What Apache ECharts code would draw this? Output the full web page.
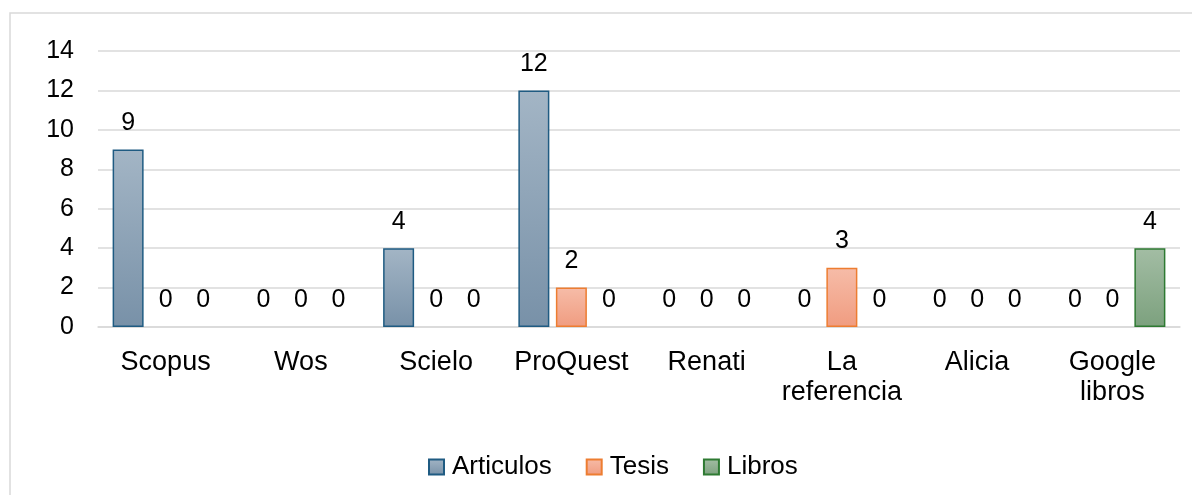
<!DOCTYPE html>
<html>
<head>
<meta charset="utf-8">
<script src="https://cdn.jsdelivr.net/npm/echarts@6/dist/echarts.min.js"></script>
<style>
  html, body { margin: 0; padding: 0; background: #fff; }
  #main { width: 1192px; height: 495px; }
</style>
</head>
<body>
<div id="main"></div>
<script>
var categories = ['Scopus', 'Wos', 'Scielo', 'ProQuest', 'Renati', 'La\nreferencia', 'Alicia', 'Google\nlibros'];
var articulos = [9, 0, 4, 12, 0, 0, 0, 0];
var tesis = [0, 0, 0, 2, 0, 3, 0, 0];
var libros = [0, 0, 0, 0, 0, 0, 0, 4];
var yTicks = { min: 0, max: 14, step: 2 };

var font = '"Liberation Sans", Arial, sans-serif';

function grad(top, bottom) {
	return new echarts.graphic.LinearGradient(0, 0, 0, 1, [
		{ offset: 0, color: top },
		{ offset: 1, color: bottom }
	]);
}

// zero bars: no visible mark, only the "0" label (like Excel)
function items(data) {
	return data.map(function (v) {
		if (v === 0) {
			return { value: 0, itemStyle: { color: 'transparent', borderColor: 'transparent', borderWidth: 0 } };
		}
		return v;
	});
}

function barSeries(name, data, top, bottom, border) {
	return {
		name: name,
		type: 'bar',
		data: items(data),
		barWidth: 31,
		barGap: '21%',
		itemStyle: {
			color: grad(top, bottom),
			borderColor: border,
			borderWidth: 1.5
		},
		label: {
			show: true,
			position: 'top',
			distance: 14,
			color: '#000',
			fontFamily: font,
			fontSize: 25
		}
	};
}

var myChart = echarts.init(document.getElementById('main'));
var option = {
	animation: false,
	graphic: [{
		type: 'rect',
		z: -1,
		shape: { x: 10, y: 13, width: 1200, height: 520 },
		style: { fill: 'none', stroke: '#d9d9d9', lineWidth: 1.5 }
	}],
	grid: {
		left: 98,
		right: 12,
		top: 51,
		bottom: 168
	},
	legend: {
		top: 449,
		left: 423,
		icon: 'rect',
		itemWidth: 15,
		itemHeight: 15,
		itemGap: 34,
		textStyle: { color: '#000', fontFamily: font, fontSize: 26, padding: [0, 0, 0, 3] },
		data: ['Articulos', 'Tesis', 'Libros']
	},
	xAxis: [{
		type: 'category',
		data: categories,
		axisLine: { lineStyle: { color: '#d9d9d9', width: 1.5 } },
		axisTick: { show: false },
		axisLabel: {
			color: '#000',
			fontFamily: font,
			fontSize: 27,
			lineHeight: 30,
			margin: 21,
			interval: 0
		}
	}],
	yAxis: [{
		type: 'value',
		min: yTicks.min,
		max: yTicks.max,
		interval: yTicks.step,
		axisLine: { show: false },
		axisTick: { show: false },
		splitLine: { lineStyle: { color: '#d9d9d9', width: 1.5 } },
		axisLabel: {
			color: '#000',
			fontFamily: font,
			fontSize: 25,
			margin: 24
		}
	}],
	series: [
		barSeries('Articulos', articulos, '#a3b5c5', '#7891a8', '#1f5b82'),
		barSeries('Tesis', tesis, '#f6bca8', '#f09c80', '#ed7d31'),
		barSeries('Libros', libros, '#a3bda4', '#7ca17e', '#2e7a32')
	]
};
myChart.setOption(option);
</script>
</body>
</html>
